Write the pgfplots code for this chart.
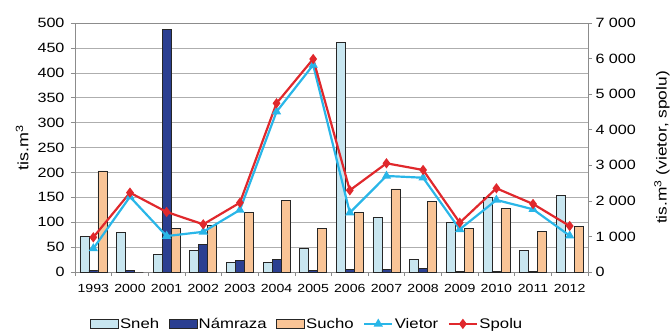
\documentclass[border=0pt]{standalone}
\usepackage{fontspec}
\setmainfont{Liberation Sans}[FakeStretch=1.2]
\usepackage{pgfplots}
\pgfplotsset{compat=1.18}
\definecolor{snehc}{HTML}{C8E6F0}
\definecolor{namc}{HTML}{2B3F91}
\definecolor{suchoc}{HTML}{F9C496}
\definecolor{vietc}{HTML}{29B6E8}
\definecolor{spoluc}{HTML}{E0282C}
\definecolor{axc}{HTML}{8C8C8C}
\pgfplotsset{linelegend/.style={legend image code/.code={\draw[mark repeat=2,mark phase=2,##1] plot coordinates {(0bp,0bp) (14bp,0bp) (28bp,0bp)};}}}
\pgfplotstableread{
x sneh nam sucho vietor spolu
0 71 4 203 660 975
1 80 4 0 2115 2230
2 35 487 88 1010 1687
3 43 55 93 1130 1340
4 19 24 119 1745 1948
5 19 26 143 4505 4743
6 47 4 88 5820 5988
7 461 5 120 1667 2297
8 110 5 167 2700 3056
9 25 8 141 2650 2868
10 100 2 87 1200 1386
11 149 2 128 2024 2353
12 43 2 82 1763 1912
13 154 0 92 1020 1293
}\data
\begin{document}
\begin{tikzpicture}
\pgfplotsset{every axis/.append style={
  scale only axis, width=513bp, height=249bp,
  xmin=-0.5, xmax=13.5,
  /pgf/number format/assume math mode=true,
  axis line style={axc}, tick style={axc, line width=0.6pt},
  tick align=outside, major tick length=4bp,
}}
\begin{axis}[
  ymin=0, ymax=500,
  ybar=0pt, bar width=9bp,
  xtick={0,...,13},
  xticklabels={1993,2000,2001,2002,2003,2004,2005,2006,2007,2008,2009,2010,2011,2012},
  major x tick style={draw=none},
  minor xtick={-0.5,0.5,...,13.5}, minor tick length=4bp,
  xtick pos=bottom, ytick pos=left,
  ytick={0,50,...,500},
  ymajorgrids, grid style={axc!70, line width=0.5pt},
  x tick label style={font=\fontsize{11.8}{13}\selectfont, yshift=-5bp},
  y tick label style={font=\fontsize{13.5}{14}\selectfont, xshift=-3bp},
  ylabel={tis.m\textsuperscript{3}},
  ylabel style={font=\fontsize{15}{16}\selectfont, at={(axis description cs:-0.103,0.5)}, anchor=center},
  every axis plot/.append style={draw=black!85, line width=0.6pt},
]
\addplot[fill=snehc] table[x=x,y=sneh]{\data};
\addplot[fill=namc] table[x=x,y=nam]{\data};
\addplot[fill=suchoc] table[x=x,y=sucho]{\data};
\coordinate (ll) at (rel axis cs:0,0);
\coordinate (ur) at (rel axis cs:1,1);
\end{axis}
\begin{axis}[
  ymin=0, ymax=7000,
  axis x line=none, axis y line*=right,
  ytick={0,1000,...,7000},
  /pgf/number format/1000 sep={\ },
  y tick label style={font=\fontsize{13.5}{14}\selectfont},
  ylabel={tis.m\textsuperscript{3} (vietor, spolu)},
  ylabel style={font=\fontsize{14.5}{16}\selectfont, at={(axis description cs:1.144,0.5)}, anchor=center},
  legend columns=5,
  legend style={at={(0.452,-0.168)}, anchor=north, draw=none, fill=none,
    font=\fontsize{14}{15}\selectfont, nodes={inner xsep=1.5bp},
    /tikz/every even column/.append style={column sep=8bp}},
]
\addlegendimage{legend image code/.code={\draw[fill=snehc,draw=black!85,line width=0.6pt] (0bp,-4bp) rectangle (28bp,5bp);}}
\addlegendentry{Sneh}
\addlegendimage{legend image code/.code={\draw[fill=namc,draw=black!85,line width=0.6pt] (0bp,-4bp) rectangle (28bp,5bp);}}
\addlegendentry{Námraza}
\addlegendimage{legend image code/.code={\draw[fill=suchoc,draw=black!85,line width=0.6pt] (0bp,-4bp) rectangle (28bp,5bp);}}
\addlegendentry{Sucho}
\addplot[vietc, line width=2.2pt, mark=triangle*, mark size=3.2bp, linelegend]
  table[x=x,y=vietor]{\data};
\addlegendentry{Vietor}
\addplot[spoluc, line width=2.2pt, mark=diamond*, mark size=3.4bp, linelegend]
  table[x=x,y=spolu]{\data};
\addlegendentry{Spolu}
\end{axis}
\pgfresetboundingbox
\path ([shift={(-75bp,-62bp)}]ll) rectangle ([shift={(82bp,23bp)}]ur);
\end{tikzpicture}
\end{document}
